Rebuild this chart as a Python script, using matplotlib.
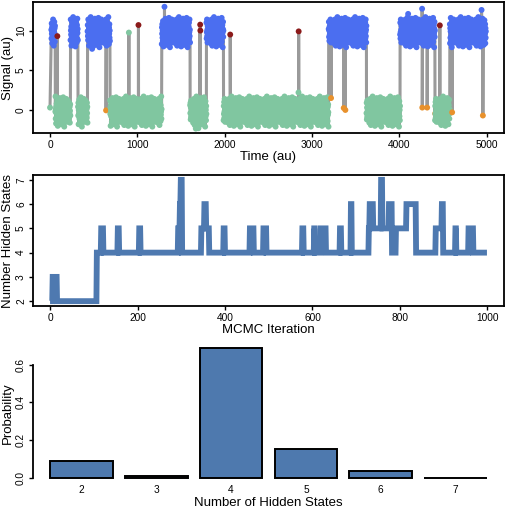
import numpy as np
import matplotlib
matplotlib.use('Agg')
import matplotlib.pyplot as plt

plt.rcParams['font.family'] = ['Liberation Sans', 'DejaVu Sans']

# ---------------- Panel 1: signal trace (time, au) ----------------
# state bands: band i runs from band_edges[i] up to band_edges[i+1]
band_edges = [15, 61, 235, 321, 430, 688, 1280, 1605, 1792, 1988, 3192, 3625, 4010, 4410, 4580, 4992]
band_state = ['B', 'G', 'B', 'G', 'B', 'G', 'B', 'G', 'B', 'G', 'B', 'G', 'B', 'G', 'B']
band_level = {'B': 9.8, 'G': -0.2}
band_step = 2
# scatter of the observations around their state level (read as typical spread)
noise_offsets = [0.3, -0.8, 1.1, -0.2, 0.6, -1.4, 0.1, 0.9, -0.5, -1.0, 1.6, 0.2, -0.3, 0.7,
                 -1.7, 0.4, -0.6, 1.3, -0.1, 0.5, -1.2, 0.8, -0.4, 0.0, 1.9, -0.9, 0.3, -1.5,
                 0.6, -0.2, 1.0, -0.7, 0.2, -1.1, 1.4, -0.3, 0.5, -1.8, 0.8, 0.1, -0.6, 1.2,
                 -0.4, 0.7, -1.3, 0.0, 0.9, -0.8, 1.7, -0.1, 0.4, -1.0, 0.6, -0.5, 1.1, -1.6,
                 0.2, 0.8, -0.3, 1.5, -0.9, 0.3, -0.2, 1.0, -1.4, 0.5, -0.7, 0.1, 1.8, -1.2,
                 0.6, -0.4, 0.9, -0.1, -1.9, 0.4, 1.3, -0.6, 0.2, -1.1, 0.7, -0.3, 1.2, -0.8,
                 0.0, 1.6, -0.5, 0.3, -1.3, 0.8, -0.2, 1.1, -1.0, 0.5, -0.7, 1.4, -0.4, 0.15,
                 -0.25, 0.45, -0.55]
# isolated observations (excursions / outliers)
spike_t = [0, 84, 482, 642, 903, 1013, 1311, 1670, 1700, 1720, 1722, 2064, 2846, 2848,
           3219, 3364, 3383, 4102, 4262, 4264, 4320, 4412, 4465, 4606, 4943, 4958]
spike_y = [0.3, 9.3, 7.7, -0.05, 9.75, 10.7, 13.0, -2.35, -2.3, 10.75, 10.0, 9.5, 2.2, 9.9,
           1.5, 0.25, 0.0, 12.1, 12.75, 0.3, 0.3, -0.45, 10.66, -0.3, 12.6, -0.7]
spike_state = ['G', 'R', 'B', 'O', 'G', 'R', 'B', 'G', 'G', 'R', 'R', 'R', 'G', 'R',
               'O', 'O', 'O', 'B', 'B', 'O', 'O', 'O', 'R', 'O', 'B', 'O']
state_colors = {'B': '#4b6ef0', 'G': '#80c6a0', 'R': '#8b1a1a', 'O': '#e8912c'}

# ---------------- Panel 2: MCMC trace ----------------
n_iter = 1000
trace_start = [0, 6, 16, 107, 117, 122, 155, 158, 204, 207, 293, 297, 299, 302, 346, 353,
               357, 364, 397, 400, 457, 466, 488, 495, 577, 580, 604, 606, 619, 631, 663,
               666, 688, 690, 729, 731, 739, 757, 760, 775, 782, 791, 815, 837, 882, 896,
               899, 927, 929, 957, 968]
trace_value = [2, 3, 2, 4, 5, 4, 5, 4, 5, 4, 5, 6, 7, 4, 5, 6,
               5, 4, 5, 4, 5, 4, 5, 4, 5, 4, 5, 4, 5, 4, 5,
               4, 6, 4, 5, 6, 5, 7, 5, 6, 4, 5, 6, 4, 5, 6,
               4, 5, 4, 5, 4]

# ---------------- Panel 3: posterior of number of states ----------------
n_states = [2, 3, 4, 5, 6, 7]
prob = [0.090, 0.011, 0.688, 0.155, 0.037, 0.002]

# ---------------- build series ----------------
ts, ys, ss = [], [], []
k = 0
nb = len(band_state)
for i, s in enumerate(band_state):
    a = band_edges[i]
    b = band_edges[i + 1] + (1 if i == nb - 1 else 0)
    for t in range(a, b, band_step):
        ts.append(t)
        ys.append(band_level[s] + noise_offsets[k % len(noise_offsets)])
        ss.append(s)
        k += 1
ts += spike_t
ys += spike_y
ss += spike_state
ts = np.array(ts, dtype=float)
ys = np.array(ys)
order = np.argsort(ts, kind='stable')
ts, ys = ts[order], ys[order]
cols = [state_colors[ss[i]] for i in order]

W, H = 506, 508
fig = plt.figure(figsize=(W / 100, H / 100), dpi=100)

tick_fs = 7.3
lab_fs = 9.5


def style_box(ax):
    for sp in ax.spines.values():
        sp.set_linewidth(1.3)
    ax.tick_params(direction='out', length=3, width=1.0, labelsize=tick_fs, pad=2)
    plt.setp(ax.get_yticklabels(), rotation=90, va='center')


# Panel 1
ax1 = fig.add_axes([33 / W, 1 - 133 / H, 471 / W, 131 / H])
ax1.plot(ts, ys, color='#9a9a9a', lw=2.2, zorder=2, solid_joinstyle='round')
ax1.scatter(ts, ys, c=cols, s=18, linewidths=0, zorder=3)
ax1.set_xlim(-195, 5200)
ax1.set_ylim(-2.9, 13.6)
ax1.set_xticks([0, 1000, 2000, 3000, 4000, 5000])
ax1.set_yticks([0, 5, 10])
style_box(ax1)
fig.text(268.5 / W, 1 - 160 / H, 'Time (au)', ha='center', va='baseline', fontsize=lab_fs)
fig.text(7.8 / W, 1 - 67.5 / H, 'Signal (au)', ha='center', va='center', rotation=90, fontsize=lab_fs)

# Panel 2
ax2 = fig.add_axes([33 / W, 1 - 306 / H, 471 / W, 131 / H])
lengths = np.diff(trace_start + [n_iter])
states = np.repeat(trace_value, lengths)
iters = np.arange(n_iter)
ax2.plot(iters, states, color='#4e79b0', lw=4.2, solid_capstyle='butt', solid_joinstyle='miter')
ax2.set_xlim(-39, 1038)
ax2.set_ylim(1.8, 7.2)
ax2.set_xticks([0, 200, 400, 600, 800, 1000])
ax2.set_yticks([2, 3, 4, 5, 6, 7])
style_box(ax2)
fig.text(268.5 / W, 1 - 332.7 / H, 'MCMC Iteration', ha='center', va='baseline', fontsize=lab_fs)
fig.text(7.8 / W, 1 - 240.5 / H, 'Number Hidden States', ha='center', va='center', rotation=90, fontsize=lab_fs)

# Panel 3
ax3 = fig.add_axes([33 / W, 1 - 483.2 / H, 471 / W, 140.3 / H])
pos = 0.7 + 1.2 * np.arange(len(n_states))
ax3.bar(pos, prob, width=1.0, color='#4e79ae', edgecolor='black', linewidth=1.4)
pmax = max(prob)
ax3.set_ylim(-0.04 * pmax, 1.04 * pmax)
span = (pos[-1] + 0.5) - (pos[0] - 0.5)
ax3.set_xlim(pos[0] - 0.5 - 0.04 * span, pos[-1] + 0.5 + 0.04 * span)
for side in ['top', 'right', 'bottom']:
    ax3.spines[side].set_visible(False)
ax3.spines['left'].set_linewidth(1.3)
ax3.spines['left'].set_bounds(0, 0.6)
ax3.set_yticks([0.0, 0.2, 0.4, 0.6])
ax3.set_yticklabels(['0.0', '0.2', '0.4', '0.6'])
ax3.set_xticks(pos)
ax3.set_xticklabels([str(n) for n in n_states])
ax3.tick_params(axis='y', direction='out', length=3, width=1.0, labelsize=tick_fs, pad=2)
ax3.tick_params(axis='x', length=0, labelsize=tick_fs, pad=1.5)
plt.setp(ax3.get_yticklabels(), rotation=90, va='center')
fig.text(268.5 / W, 1 - 505.5 / H, 'Number of Hidden States', ha='center', va='baseline', fontsize=lab_fs)
fig.text(7.8 / W, 1 - 413 / H, 'Probability', ha='center', va='center', rotation=90, fontsize=lab_fs)

fig.savefig('out.png', dpi=100)
